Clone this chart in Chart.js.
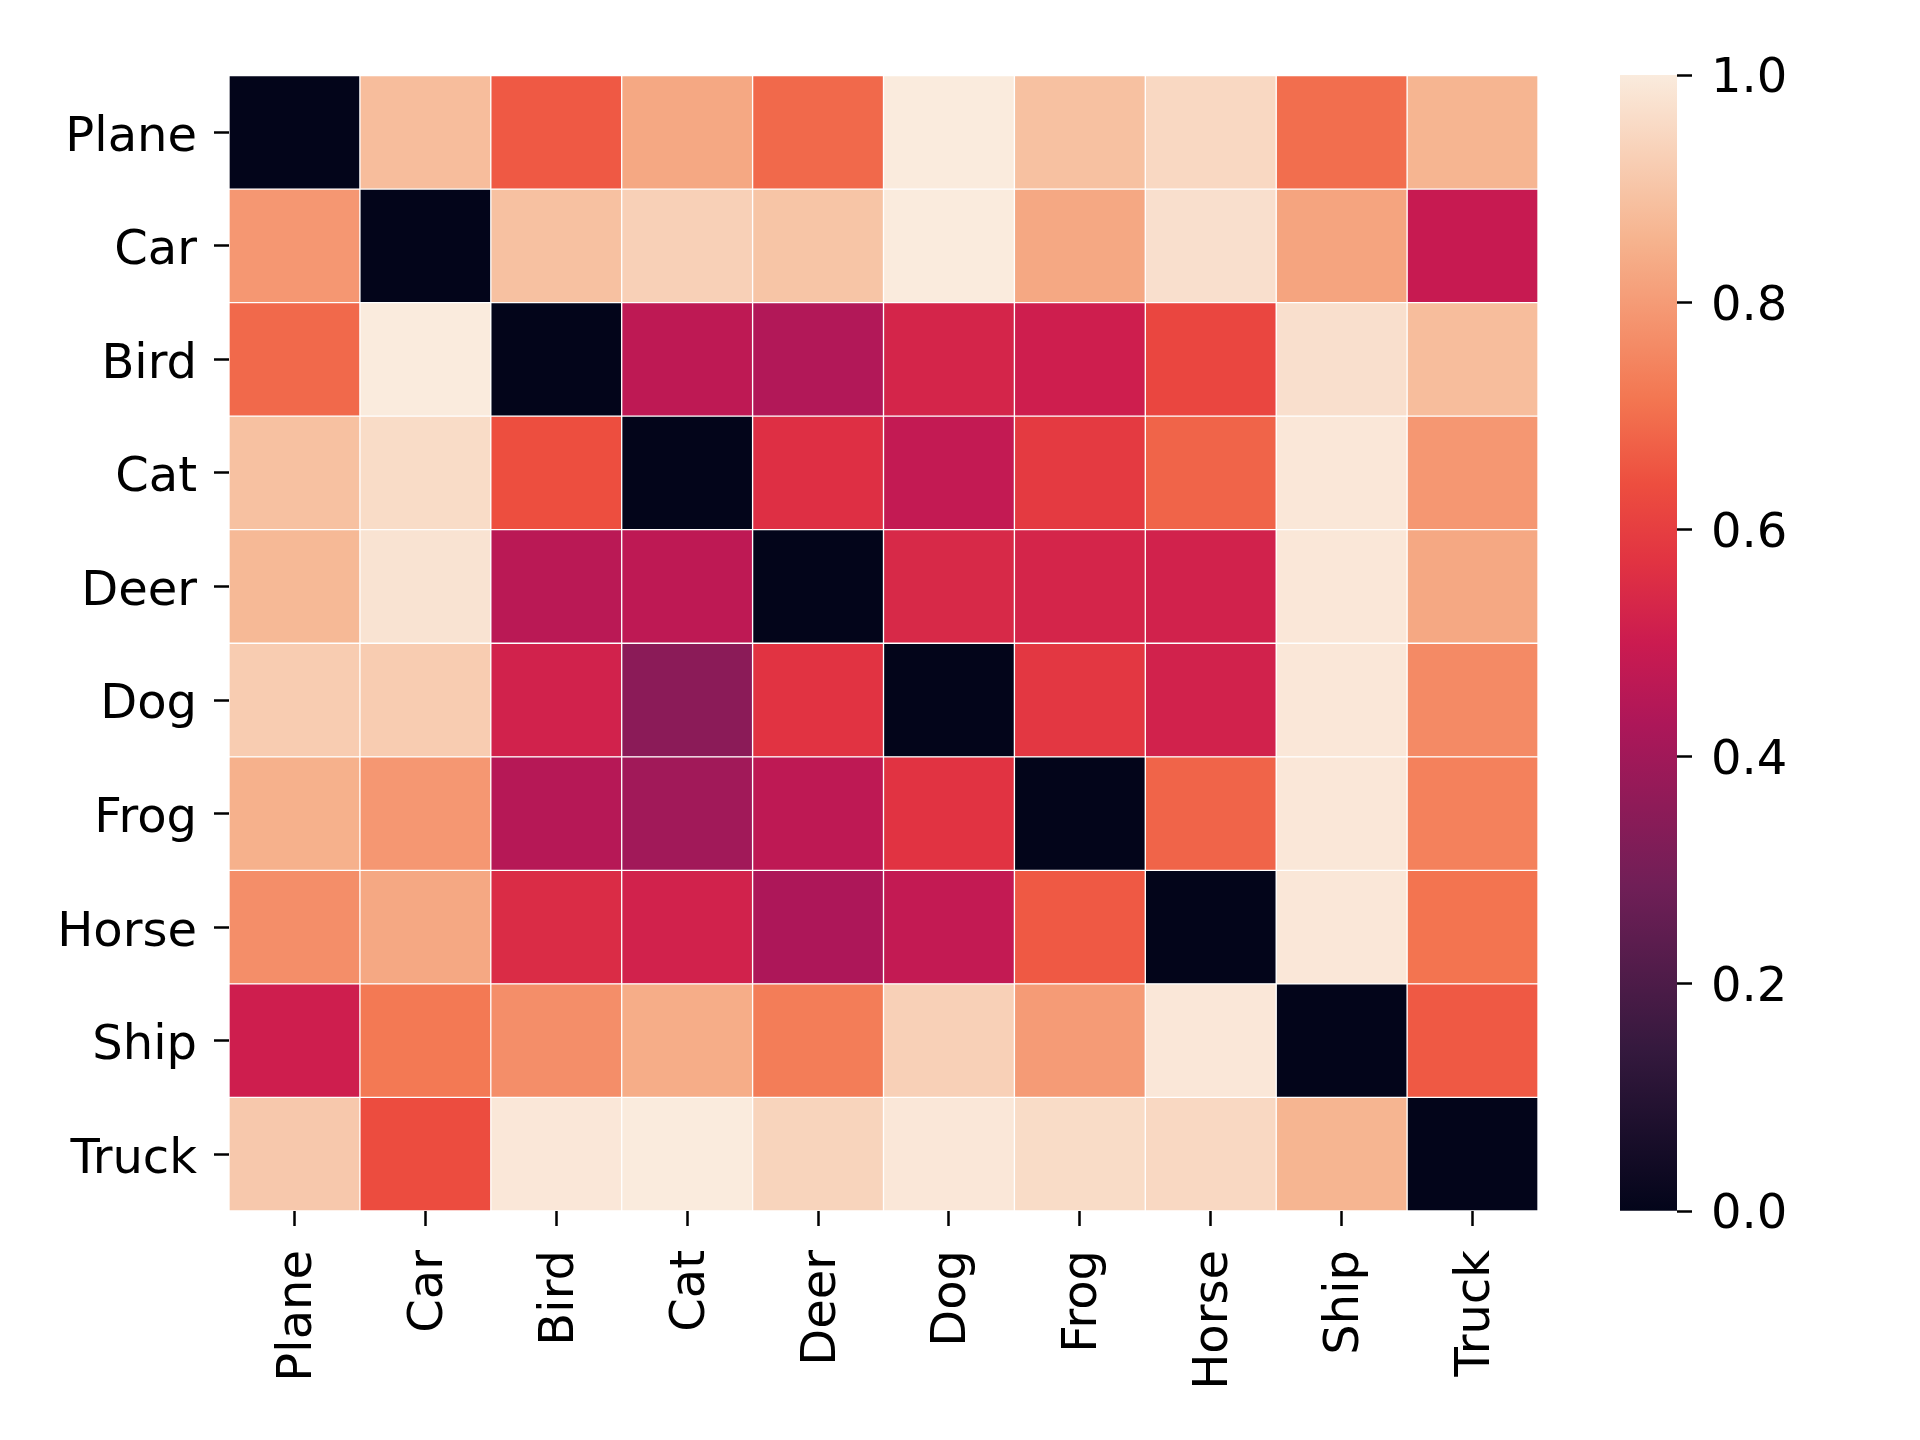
<!DOCTYPE html>
<html>
<head>
<meta charset="utf-8">
<script src="https://cdn.jsdelivr.net/npm/chart.js@4/dist/chart.umd.min.js"></script>
<style>
  html, body { margin: 0; padding: 0; background: #fff; }
  #wrap { position: relative; width: 1920px; height: 1440px; }
  #heat { position: absolute; left: 0; top: 0; }
  #cbar { position: absolute; left: 1600px; top: 0; }
</style>
</head>
<body>
<div id="wrap">
  <canvas id="heat" width="1600" height="1440"></canvas>
  <canvas id="cbar" width="320" height="1440"></canvas>
</div>
<script>
// class names, same order for rows and columns
const classes = ['Plane', 'Car', 'Bird', 'Cat', 'Deer', 'Dog', 'Frog', 'Horse', 'Ship', 'Truck'];

// one row of the matrix per class
const plane = [0.00, 0.88, 0.66, 0.83, 0.69, 1.00, 0.89, 0.95, 0.70, 0.86];
const car   = [0.79, 0.00, 0.89, 0.93, 0.90, 1.00, 0.83, 0.97, 0.82, 0.49];
const bird  = [0.69, 1.00, 0.00, 0.47, 0.44, 0.53, 0.51, 0.62, 0.97, 0.88];
const cat   = [0.89, 0.96, 0.64, 0.00, 0.56, 0.48, 0.59, 0.68, 0.99, 0.79];
const deer  = [0.87, 0.98, 0.46, 0.47, 0.00, 0.54, 0.53, 0.52, 0.99, 0.83];
const dog   = [0.92, 0.92, 0.52, 0.35, 0.57, 0.00, 0.58, 0.52, 0.99, 0.76];
const frog  = [0.85, 0.79, 0.45, 0.40, 0.47, 0.57, 0.00, 0.68, 0.99, 0.74];
const horse = [0.77, 0.83, 0.55, 0.52, 0.43, 0.48, 0.66, 0.00, 0.99, 0.71];
const ship  = [0.51, 0.72, 0.77, 0.84, 0.73, 0.93, 0.80, 0.99, 0.00, 0.66];
const truck = [0.91, 0.635, 0.99, 1.00, 0.94, 0.99, 0.96, 0.95, 0.86, 0.00];
const matrix = [plane, car, bird, cat, deer, dog, frog, horse, ship, truck];

// colour bar ticks
const cbarTicks = [0.0, 0.2, 0.4, 0.6, 0.8, 1.0];

// seaborn "rocket" colormap, a few stops
const rocketStops = [
  [0.000, [3, 5, 26]],
  [0.143, [53, 25, 62]],
  [0.286, [112, 31, 87]],
  [0.429, [173, 23, 89]],
  [0.500, [203, 27, 80]],
  [0.571, [225, 51, 66]],
  [0.640, [237, 78, 63]],
  [0.714, [243, 118, 81]],
  [0.857, [246, 180, 143]],
  [1.000, [250, 235, 221]]
];

function rocket(v) {
  v = Math.max(0, Math.min(1, v));
  for (let i = 1; i < rocketStops.length; i++) {
    const [p1, c1] = rocketStops[i];
    const [p0, c0] = rocketStops[i - 1];
    if (v <= p1) {
      const t = (v - p0) / (p1 - p0);
      const c = c0.map((x, k) => Math.round(x + (c1[k] - x) * t));
      return `rgb(${c[0]},${c[1]},${c[2]})`;
    }
  }
  return 'rgb(250,235,221)';
}

const font = { family: 'DejaVu Sans', size: 48 };
const tickGrid = {
  drawOnChartArea: false,
  drawTicks: true,
  tickLength: 15,
  tickWidth: 2.5,
  tickColor: '#000',
  offset: false
};

// heatmap: horizontal stacked bars, one unit-wide cell per column
const datasets = classes.map((col, j) => ({
  label: col,
  data: classes.map(() => 1),
  backgroundColor: matrix.map(row => rocket(row[j])),
  borderColor: '#ffffff',
  borderWidth: 1,
  borderSkipped: false,
  barPercentage: 1,
  categoryPercentage: 1
}));

new Chart(document.getElementById('heat'), {
  type: 'bar',
  data: { labels: classes, datasets: datasets },
  options: {
    indexAxis: 'y',
    responsive: false,
    animation: false,
    devicePixelRatio: 1,
    layout: { padding: { top: 75.5, right: 62, left: 0, bottom: 0 } },
    plugins: { legend: { display: false }, tooltip: { enabled: false } },
    scales: {
      x: {
        type: 'linear',
        stacked: true,
        min: 0,
        max: classes.length,
        position: 'bottom',
        border: { display: false },
        grid: tickGrid,
        afterBuildTicks: (scale) => {
          scale.ticks = classes.map((_, i) => ({ value: i + 0.5 }));
        },
        afterFit: (scale) => { scale.height = 229; },
        ticks: {
          autoSkip: false,
          minRotation: 90,
          maxRotation: 90,
          padding: 24,
          labelOffset: 4,
          color: '#000',
          font: font,
          callback: (v) => classes[Math.floor(v)]
        }
      },
      y: {
        type: 'category',
        stacked: true,
        offset: true,
        border: { display: false },
        grid: tickGrid,
        afterFit: (scale) => { scale.width = 229; },
        ticks: { padding: 17, labelOffset: 6, color: '#000', font: font }
      }
    }
  }
});

// colour bar: a single floating bar filled with the colormap gradient
new Chart(document.getElementById('cbar'), {
  type: 'bar',
  data: {
    labels: [''],
    datasets: [{
      data: [[0, 1]],
      backgroundColor: (ctx) => {
        const area = ctx.chart.chartArea;
        if (!area) return null;
        const g = ctx.chart.ctx.createLinearGradient(0, area.bottom, 0, area.top);
        rocketStops.forEach(([p]) => g.addColorStop(p, rocket(p)));
        return g;
      },
      borderWidth: 0,
      barPercentage: 1,
      categoryPercentage: 1
    }]
  },
  options: {
    responsive: false,
    animation: false,
    devicePixelRatio: 1,
    layout: { padding: { top: 75, left: 20, right: 0, bottom: 229 } },
    plugins: { legend: { display: false }, tooltip: { enabled: false } },
    scales: {
      x: { display: false },
      y: {
        position: 'right',
        min: 0,
        max: 1,
        border: { display: false },
        grid: tickGrid,
        afterBuildTicks: (scale) => {
          scale.ticks = cbarTicks.map(v => ({ value: v }));
        },
        afterFit: (scale) => { scale.width = 243; },
        ticks: {
          padding: 19,
          labelOffset: 5,
          color: '#000',
          font: font,
          callback: (v) => v.toFixed(1)
        }
      }
    }
  }
});
</script>
</body>
</html>
